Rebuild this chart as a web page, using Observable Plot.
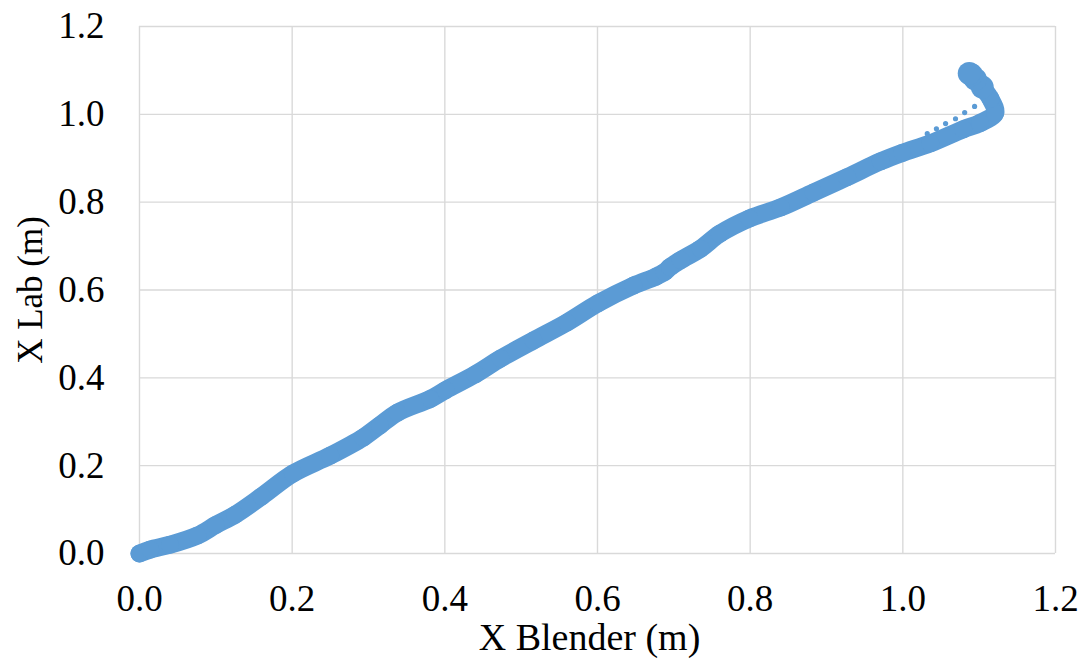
<!DOCTYPE html>
<html>
<head>
<meta charset="utf-8">
<script src="https://cdn.jsdelivr.net/npm/d3@7"></script>
<script src="https://cdn.jsdelivr.net/npm/@observablehq/plot@0.6"></script>
<style>
  html, body { margin: 0; padding: 0; background: #ffffff; }
  #chart { width: 1091px; height: 659px; }
</style>
</head>
<body>
<div id="chart"></div>
<script>
// X Blender (m) values of the dense trajectory
const xBlender = [0.000, 0.014, 0.040, 0.076, 0.100, 0.125, 0.160, 0.201, 0.250, 0.293, 0.315, 0.338, 0.381, 0.401, 0.440, 0.473, 0.516, 0.560, 0.601, 0.647, 0.676, 0.688, 0.695, 0.709, 0.735, 0.760, 0.799, 0.840, 0.883, 0.927, 0.971, 0.999, 1.036, 1.079, 1.101, 1.121, 1.115, 1.104, 1.095, 1.090, 1.087];
// X Lab (m) values of the dense trajectory
const xLab     = [0.000, 0.009, 0.020, 0.041, 0.065, 0.088, 0.130, 0.182, 0.223, 0.264, 0.292, 0.321, 0.352, 0.372, 0.408, 0.444, 0.485, 0.526, 0.570, 0.610, 0.630, 0.641, 0.652, 0.668, 0.694, 0.728, 0.763, 0.788, 0.822, 0.857, 0.893, 0.912, 0.934, 0.966, 0.980, 1.003, 1.035, 1.062, 1.080, 1.090, 1.093];
// sparse return points (small markers)
const xBlenderSparse = [1.032, 1.044, 1.056, 1.069, 1.081, 1.094];
const xLabSparse     = [0.956, 0.967, 0.979, 0.990, 1.004, 1.018];
// tick values
const ticks = [0, 0.2, 0.4, 0.6, 0.8, 1.0, 1.2];
const xTitle = "X Blender (m)";
const yTitle = "X Lab (m)";

const dense = xBlender.map((x, i) => ({x, y: xLab[i]}));
const sparse = xBlenderSparse.map((x, i) => ({x, y: xLabSparse[i]}));
const blue = "#5b9bd5";

const chart = Plot.plot({
  width: 1091,
  height: 659,
  marginLeft: 139,
  marginRight: 36,
  marginTop: 26,
  marginBottom: 106,
  style: {fontFamily: "'Liberation Serif', 'Times New Roman', serif", color: "#000", background: "#fff"},
  x: {domain: [0, 1.2]},
  y: {domain: [0, 1.2]},
  marks: [
    Plot.gridX(ticks, {stroke: "#d9d9d9", strokeOpacity: 1, strokeWidth: 1.4}),
    Plot.gridY(ticks, {stroke: "#d9d9d9", strokeOpacity: 1, strokeWidth: 1.4}),
    Plot.line(dense, {x: "x", y: "y", stroke: blue, strokeWidth: 18, strokeLinecap: "round", strokeLinejoin: "round", curve: "catmull-rom"}),
    Plot.dot(dense, {x: "x", y: "y", r: 9, fill: blue}),
    Plot.dot(dense.slice(-4), {x: "x", y: "y", r: 11.5, fill: blue}),
    Plot.dot(sparse, {x: "x", y: "y", r: 2.6, fill: blue}),
    Plot.axisX(ticks, {tickSize: 0, tickPadding: 31, fontSize: 37, tickFormat: d3.format(".1f"), label: null}),
    Plot.axisY(ticks, {tickSize: 0, tickPadding: 35, fontSize: 37, tickFormat: d3.format(".1f"), label: null}),
    Plot.text([yTitle], {text: d => d, frameAnchor: "left", dx: -109, rotate: -90, fontSize: 35, textAnchor: "middle", lineAnchor: "middle"}),
    Plot.text([xTitle], {text: d => d, frameAnchor: "bottom", dx: -8, dy: 84, fontSize: 38, textAnchor: "middle", lineAnchor: "middle"})
  ]
});
document.getElementById("chart").appendChild(chart);
</script>
</body>
</html>
